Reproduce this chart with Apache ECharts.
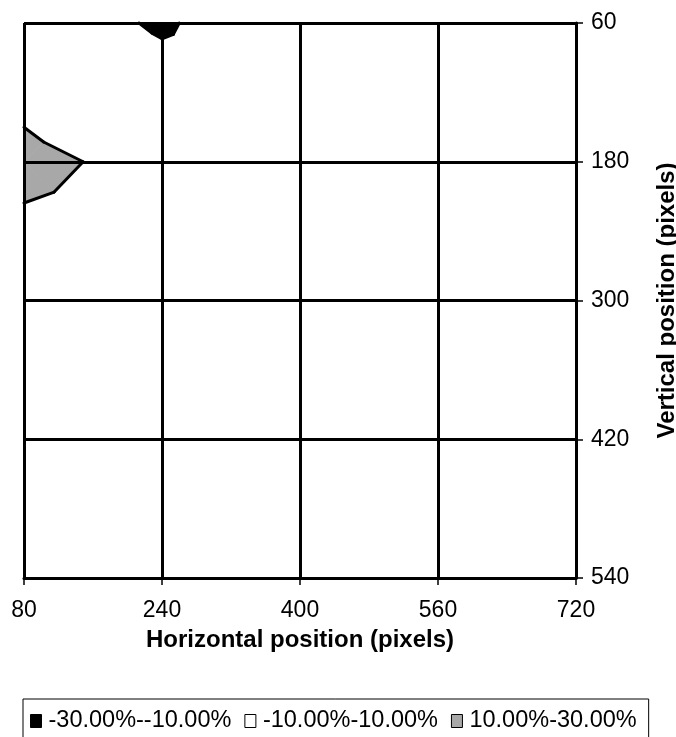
<!DOCTYPE html>
<html>
<head>
<meta charset="utf-8">
<script src="https://cdn.jsdelivr.net/npm/echarts@6/dist/echarts.min.js"></script>
<style>
  html, body { margin: 0; padding: 0; background: #ffffff; overflow: hidden; }
  #chart { width: 676px; height: 737px; }
</style>
</head>
<body>
<div id="chart"></div>
<script>
// Sample grid: horizontal / vertical positions (pixels)
const xPositions = [80, 240, 400, 560, 720];
const yPositions = [60, 180, 300, 420, 540];

// Relative deviation (%) at each sample, one row per vertical position
const deviationRow60  = [0.0, -12.0, 4.0, 2.0, -1.0];
const deviationRow180 = [13.3, 5.6, 3.0, 1.0, 0.0];
const deviationRow300 = [2.2, 1.9, 1.0, 0.5, -0.5];
const deviationRow420 = [3.0, 1.0, 0.0, -1.0, 0.0];
const deviationRow540 = [2.0, 0.0, -1.0, 0.0, 1.0];
const deviation = [deviationRow60, deviationRow180, deviationRow300, deviationRow420, deviationRow540];

// Contour bands
const bandNames = ['-30.00%--10.00%', '-10.00%-10.00%', '10.00%-30.00%'];
const bandLimits = [[-30, -10], [-10, 10], [10, 30]];
const bandColors = ['#000000', '#ffffff', '#a8a8a8'];
const contourLevels = [-10, 10];

const FONT = '"Liberation Sans", Arial, Helvetica, sans-serif';

// Sutherland-Hodgman clip of a polygon [x, y, v] against fn(p) >= 0
function clipPoly(poly, fn) {
  const out = [];
  const n = poly.length;
  for (let k = 0; k < n; k++) {
    const a = poly[k], b = poly[(k + 1) % n];
    const fa = fn(a), fb = fn(b);
    if (fa >= 0) out.push(a);
    if ((fa >= 0) !== (fb >= 0)) {
      const t = fa / (fa - fb);
      out.push([a[0] + t * (b[0] - a[0]), a[1] + t * (b[1] - a[1]), a[2] + t * (b[2] - a[2])]);
    }
  }
  return out;
}

// Iso-line segment of a triangle at a given level
function isoSegment(tri, level) {
  const pts = [];
  for (let k = 0; k < 3; k++) {
    const a = tri[k], b = tri[(k + 1) % 3];
    const fa = a[2] - level, fb = b[2] - level;
    if ((fa < 0) !== (fb < 0)) {
      const t = fa / (fa - fb);
      pts.push([a[0] + t * (b[0] - a[0]), a[1] + t * (b[1] - a[1])]);
    }
  }
  return pts.length === 2 ? pts : null;
}

// Split each grid cell into four triangles around its centre and
// collect band polygons and boundary segments in data coordinates
const bandPieces = bandLimits.map(() => []);
const boundarySegments = [];
for (let j = 0; j < yPositions.length - 1; j++) {
  for (let i = 0; i < xPositions.length - 1; i++) {
    const c = [
      [xPositions[i], yPositions[j], deviation[j][i]],
      [xPositions[i + 1], yPositions[j], deviation[j][i + 1]],
      [xPositions[i + 1], yPositions[j + 1], deviation[j + 1][i + 1]],
      [xPositions[i], yPositions[j + 1], deviation[j + 1][i]]
    ];
    const mid = [
      (c[0][0] + c[1][0]) / 2,
      (c[0][1] + c[3][1]) / 2,
      (c[0][2] + c[1][2] + c[2][2] + c[3][2]) / 4
    ];
    for (let k = 0; k < 4; k++) {
      const tri = [c[k], c[(k + 1) % 4], mid];
      bandLimits.forEach(([lo, hi], b) => {
        let poly = clipPoly(tri, p => p[2] - lo);
        if (poly.length) poly = clipPoly(poly, p => hi - p[2]);
        if (poly.length >= 3) bandPieces[b].push(poly.map(p => [p[0], p[1]]));
      });
      contourLevels.forEach(level => {
        const seg = isoSegment(tri, level);
        if (seg) boundarySegments.push(seg);
      });
    }
  }
}

const bandSeries = bandNames.map((name, b) => ({
  type: 'custom',
  name: name,
  coordinateSystem: 'cartesian2d',
  silent: true,
  z: b === 1 ? 1 : 2,
  itemStyle: { color: bandColors[b] },
  data: bandPieces[b].map(poly => poly[0]),
  renderItem: function (params, api) {
    const poly = bandPieces[b][params.dataIndex];
    return {
      type: 'polygon',
      shape: { points: poly.map(p => api.coord(p)) },
      style: { fill: bandColors[b], stroke: bandColors[b], lineWidth: 0.8 }
    };
  }
}));

const boundarySeries = {
  type: 'custom',
  coordinateSystem: 'cartesian2d',
  silent: true,
  z: 3,
  data: boundarySegments.map(s => s[0]),
  renderItem: function (params, api) {
    const s = boundarySegments[params.dataIndex];
    const p1 = api.coord(s[0]), p2 = api.coord(s[1]);
    return {
      type: 'line',
      shape: { x1: p1[0], y1: p1[1], x2: p2[0], y2: p2[1] },
      style: { stroke: '#000000', lineWidth: 3, lineCap: 'round' }
    };
  }
};

const chart = echarts.init(document.getElementById('chart'), null, {
  renderer: 'canvas', width: 676, height: 737
});
chart.setOption({
  animation: false,
  backgroundColor: '#ffffff',
  textStyle: { fontFamily: FONT },
  grid: { left: 24, right: 100, top: 23, bottom: 159, containLabel: false, outerBoundsMode: 'none' },
  xAxis: {
    type: 'value',
    min: 80,
    max: 720,
    interval: 160,
    position: 'bottom',
    z: 4,
    name: 'Horizontal position (pixels)',
    nameLocation: 'middle',
    nameGap: 50,
    nameTextStyle: { fontSize: 24, fontWeight: 'bold', color: '#000', fontFamily: FONT },
    axisLine: { show: true, lineStyle: { color: '#000', width: 3 } },
    axisTick: { show: true, length: 7, lineStyle: { color: '#000', width: 1.5 } },
    axisLabel: { fontSize: 23, color: '#000', margin: 21, fontFamily: FONT },
    splitLine: { show: true, lineStyle: { color: '#000', width: 3 } }
  },
  yAxis: {
    type: 'value',
    min: 60,
    max: 540,
    interval: 120,
    inverse: true,
    position: 'right',
    z: 4,
    name: 'Vertical position (pixels)',
    nameLocation: 'middle',
    nameRotate: 90,
    nameGap: 79,
    nameTextStyle: { fontSize: 24, fontWeight: 'bold', color: '#000', fontFamily: FONT },
    axisLine: { show: true, lineStyle: { color: '#000', width: 3 } },
    axisTick: { show: true, length: 7, lineStyle: { color: '#000', width: 1.5 } },
    axisLabel: { fontSize: 23, color: '#000', margin: 15, fontFamily: FONT },
    splitLine: { show: true, lineStyle: { color: '#000', width: 3 } }
  },
  legend: {
    data: bandNames,
    left: 23,
    top: 699,
    orient: 'horizontal',
    icon: 'rect',
    itemWidth: 11,
    itemHeight: 13,
    itemGap: 13,
    padding: [10, 12, 10, 7],
    borderColor: '#000',
    borderWidth: 1,
    selectedMode: false,
    itemStyle: { borderColor: '#000', borderWidth: 1 },
    textStyle: { fontSize: 23.5, color: '#000', fontFamily: FONT, padding: [0, 0, 0, 2] }
  },
  series: bandSeries.concat([boundarySeries])
});
</script>
</body>
</html>
